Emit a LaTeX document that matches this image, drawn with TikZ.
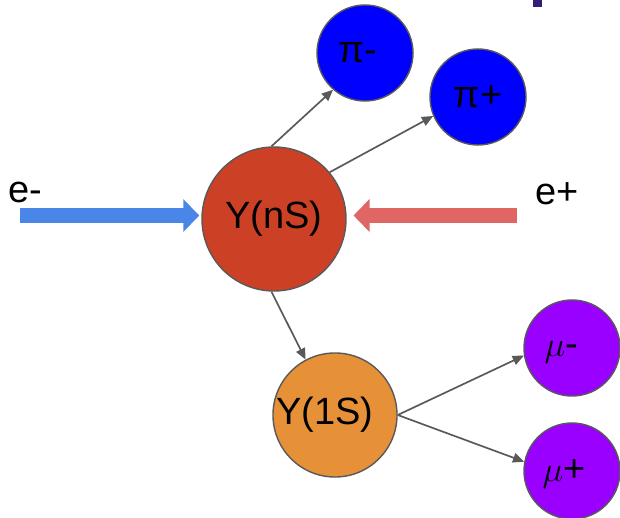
\documentclass[tikz,border=0pt]{standalone}
\usepackage{fontspec}
\setmainfont{Liberation Sans}
\usetikzlibrary{arrows.meta}
\definecolor{edgegray}{HTML}{595959}
\definecolor{pionblue}{HTML}{0000FF}
\definecolor{muonpurple}{HTML}{9900FF}
\definecolor{nsred}{HTML}{CC4125}
\definecolor{onesorange}{HTML}{E69138}
\definecolor{beamblue}{HTML}{4A86E8}
\definecolor{beamred}{HTML}{E06666}
\definecolor{cornerpurple}{HTML}{351C75}
\begin{document}
\begin{tikzpicture}[x=0.025cm,y=-0.025cm,
    font=\fontsize{27}{32}\selectfont,
    ball/.style={circle,draw=edgegray,line width=1pt,inner sep=0pt},
    decay/.style={draw=edgegray,line width=1.2pt,-{Triangle[length=0.28cm,width=0.24cm]}},
    beam/.style={line width=0.375cm,-{Triangle[length=0.4cm,width=0.8cm]}}]
    \useasboundingbox (0,0) rectangle (620,518);
    \fill[cornerpurple] (533,0) rectangle (542,7);
    \node[ball,fill=nsred,minimum size=3.6cm] (ns) at (274,219) {Y(nS)};
    \node[ball,fill=onesorange,minimum size=3.1cm,
          label={[xshift=-0.25cm]center:Y(1S)}] (ones) at (335,415) {};
    \node[ball,fill=pionblue,minimum size=2.4cm,
          label={[xshift=-0.18cm]center:π-}] (pim) at (365,53) {};
    \node[ball,fill=pionblue,minimum size=2.4cm] (pip) at (478,97) {π+};
    \node[ball,fill=muonpurple,minimum size=2.4cm,
          label={[xshift=-0.27cm,yshift=-0.1cm]center:$\mu$-}] (mum) at (572,348) {};
    \node[ball,fill=muonpurple,minimum size=2.4cm,
          label={[xshift=-0.2cm,yshift=-0.08cm]center:$\mu$+}] (mup) at (572,471) {};
    \node (em) at (25,192) {e-};
    \node (ep) at (557,194) {e+};
    \coordinate (emstart) at (20,215.5);
    \coordinate (epstart) at (517,215.5);
    \draw[beam,beamblue,shorten >=0.05cm] (emstart) -- (ns.west |- emstart);
    \draw[beam,beamred,shorten >=0.17cm] (epstart) -- (ns.east |- epstart);
    \draw[decay] (ns.92) -- (pim.229);
    \draw[decay] (ns.40) -- (pip.203);
    \draw[decay] (ns.268) -- (ones.118);
    \draw[decay] (ones.east) -- (mum.189);
    \draw[decay] (ones.east) -- (mup.169);
\end{tikzpicture}
\end{document}
